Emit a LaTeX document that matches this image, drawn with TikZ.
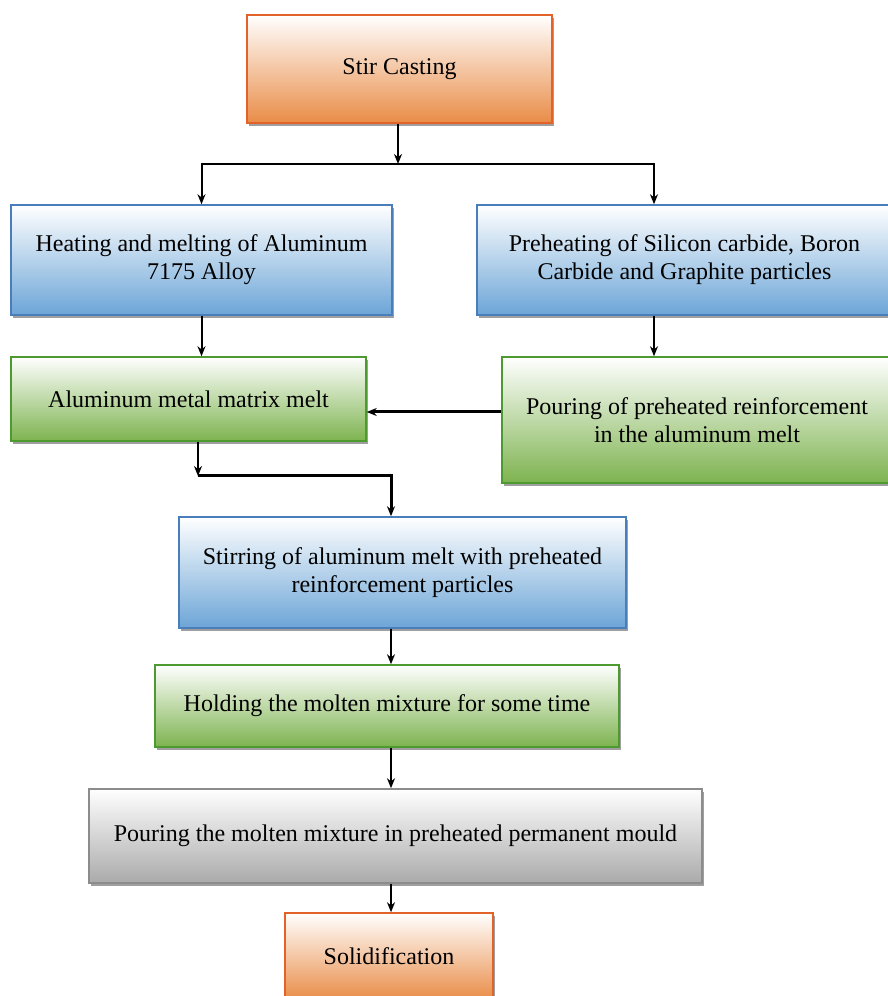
\documentclass[tikz,border=0pt]{standalone}
\usepackage{fontspec}
\setmainfont{Liberation Serif}
\usepackage{tikz}
\usetikzlibrary{calc,positioning,arrows,arrows.meta,shapes,shadows}
\definecolor{orangeb}{RGB}{233,140,71}
\definecolor{oranged}{RGB}{226,98,42}
\definecolor{blueb}{RGB}{108,165,215}
\definecolor{blued}{RGB}{74,126,187}
\definecolor{greenb}{RGB}{125,179,79}
\definecolor{greend}{RGB}{77,154,48}
\definecolor{grayb}{RGB}{170,170,170}
\definecolor{grayd}{RGB}{140,140,140}
\tikzstyle{block}     = [rectangle, inner sep=0pt, align=center, line width=1.5pt, text=black, font=\fontsize{24}{28}\selectfont, drop shadow={shadow xshift=2pt, shadow yshift=-3pt, fill=black!75}]
\tikzstyle{orangebox} = [block, draw=oranged, top color=white, bottom color=orangeb]
\tikzstyle{bluebox}   = [block, draw=blued, top color=white, bottom color=blueb]
\tikzstyle{greenbox}  = [block, draw=greend, top color=white, bottom color=greenb]
\tikzstyle{graybox}   = [block, draw=grayd, top color=white, bottom color=grayb]
\tikzstyle{arrow}     = [line width=2pt,->,>={Stealth[length=10pt,width=8pt]}]
\tikzstyle{heavy}     = [arrow, line width=3pt]

\begin{document}
\begin{tikzpicture}[x=1pt, y=1pt]
		\useasboundingbox (0,0) rectangle (888,996);
		% boxes
		\node[orangebox, minimum width=305, minimum height=108] (stir) at (399.5,927) {Stir Casting};
		\node[bluebox, minimum width=381, minimum height=110] (heat) at (201.5,736) {Heating and melting of Aluminum\\7175 Alloy};
		\node[bluebox, minimum width=415, minimum height=110] (preheat) at (684.5,736) {Preheating of Silicon carbide, Boron\\Carbide and Graphite particles};
		\node[greenbox, minimum width=355, minimum height=84] (melt) at (188.5,597) {Aluminum metal matrix melt};
		\node[greenbox, minimum width=390, minimum height=126] (pour) at (697,576) {Pouring of preheated reinforcement\\in the aluminum melt};
		\node[bluebox, minimum width=447, minimum height=111] (stirring) at (402.5,423.5) {Stirring of aluminum melt with preheated\\reinforcement particles};
		\node[greenbox, minimum width=464, minimum height=82] (hold) at (387,290) {Holding the molten mixture for some time};
		\node[graybox, minimum width=613, minimum height=94] (mould) at (395.5,160) {Pouring the molten mixture in preheated permanent mould};
		\node[orangebox, minimum width=208, minimum height=87] (solid) at (389,39.5) {Solidification};
		% helper points
		\coordinate (split) at (398,832);
		\coordinate (bend) at (198,520);
		\coordinate (axis) at (391,0);
		% connectors
		\draw[arrow] (stir.south -| split) -- (split);
		\draw[arrow] (split) -| (heat.north);
		\draw[arrow] (split) -| ([xshift=-30.5pt]preheat.north);
		\draw[arrow] (heat.south) -- (heat.south |- melt.north);
		\draw[arrow] ([xshift=-30.5pt]preheat.south) -- ([xshift=-30.5pt]preheat.south |- pour.north);
		\draw[heavy] ([yshift=8pt]pour.west) -- ([yshift=8pt]pour.west -| melt.east);
		\draw[arrow] (bend |- melt.south) -- (bend);
		\draw[heavy] (bend) -| (stirring.north -| axis);
		\draw[arrow] (stirring.south -| axis) -- (hold.north -| axis);
		\draw[arrow] (hold.south -| axis) -- (mould.north -| axis);
		\draw[arrow] (mould.south -| axis) -- (solid.north -| axis);
	\end{tikzpicture}
\end{document}
